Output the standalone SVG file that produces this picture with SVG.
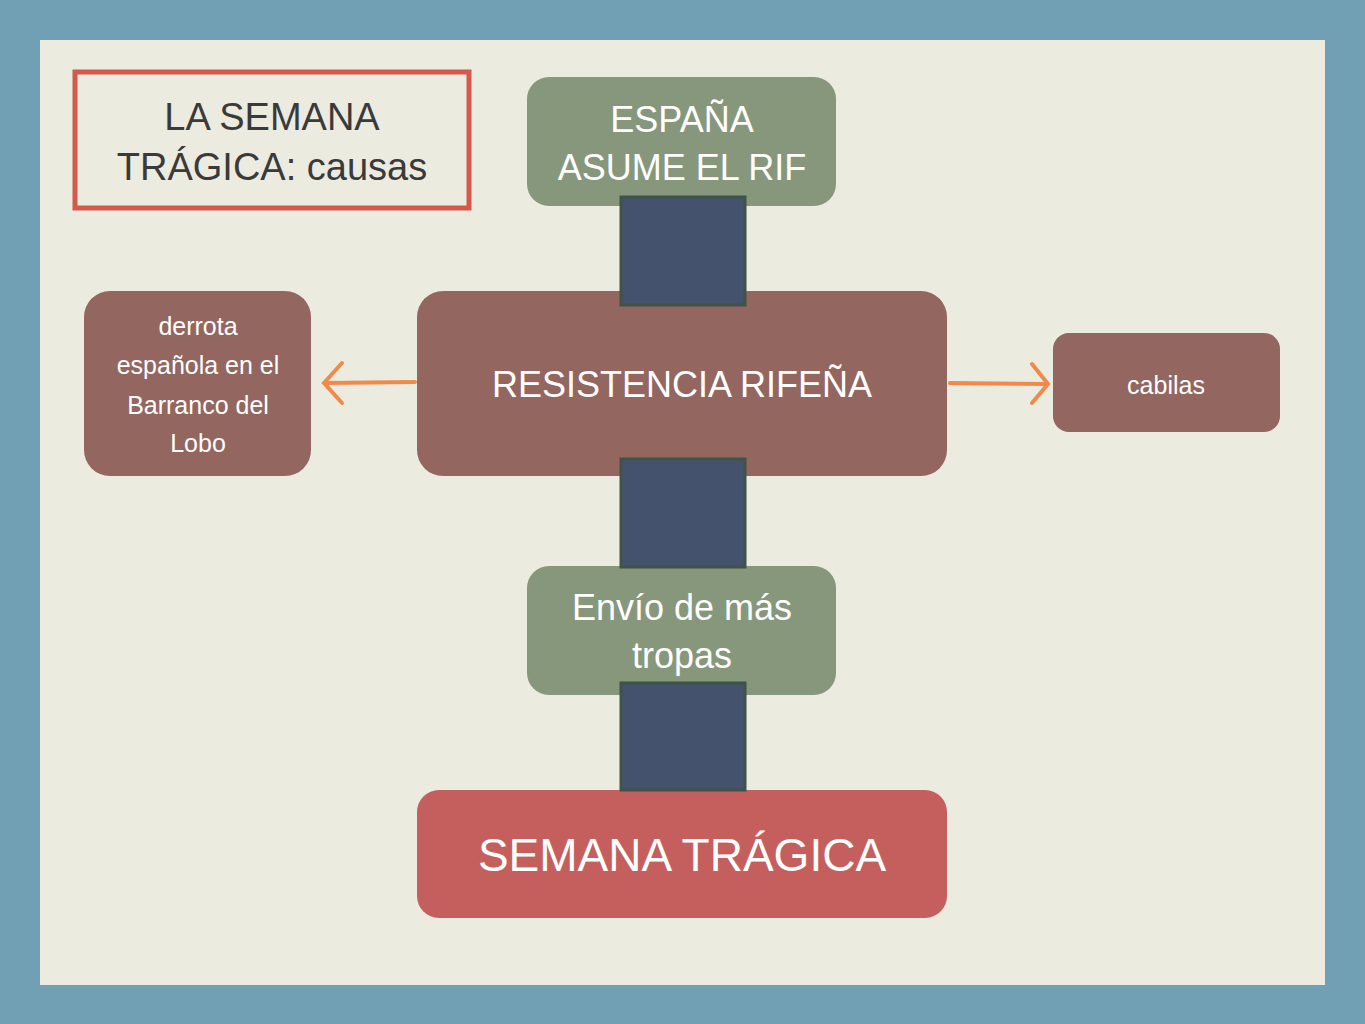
<svg xmlns="http://www.w3.org/2000/svg" width="1365" height="1024" viewBox="0 0 1365 1024">
<style>
text{font-family:"Liberation Sans",Arial,sans-serif;text-anchor:middle;fill:#fff}
.bar{fill:#44526e;stroke:#3f5346;stroke-width:3}
.g{fill:#87977c}.r{fill:#936660}
.ar{stroke:#f08a4b;stroke-width:4;fill:none;stroke-linecap:round}
</style>
<rect width="1365" height="1024" fill="#719fb3"/>
<rect x="40" y="40" width="1285" height="945" fill="#ecebe0"/>
<g id="title"><rect x="75" y="72" width="394" height="136" fill="none" stroke="#d3594c" stroke-width="5"/>
<text x="272" y="130" font-size="38" style="fill:#3a3a3a">LA SEMANA</text>
<text x="272" y="180" font-size="38" style="fill:#3a3a3a">TRÁGICA: causas</text></g>
<g id="espana"><rect class="g" x="527" y="77" width="309" height="129" rx="22"/>
<text x="682" y="132" font-size="36">ESPAÑA</text><text x="682" y="180" font-size="36">ASUME EL RIF</text></g>
<g id="resistencia"><rect class="r" x="417" y="291" width="530" height="185" rx="26"/>
<text x="682" y="397" font-size="36">RESISTENCIA RIFEÑA</text></g>
<g id="derrota"><rect class="r" x="84" y="291" width="227" height="185" rx="26"/>
<text x="198" y="335" font-size="25">derrota</text><text x="198" y="374" font-size="25">española en el</text>
<text x="198" y="414" font-size="25">Barranco del</text><text x="198" y="452" font-size="25">Lobo</text></g>
<g id="cabilas"><rect class="r" x="1053" y="333" width="227" height="99" rx="16"/>
<text x="1166" y="394" font-size="25">cabilas</text></g>
<g id="envio"><rect class="g" x="527" y="566" width="309" height="129" rx="22"/>
<text x="682" y="620" font-size="36">Envío de más</text><text x="682" y="668" font-size="36">tropas</text></g>
<g id="semana"><rect x="417" y="790" width="530" height="128" rx="22" fill="#c45f5e"/>
<text x="682" y="871" font-size="46">SEMANA TRÁGICA</text></g>
<g id="connectors">
<rect class="bar" x="621" y="197" width="124" height="108"/>
<rect class="bar" x="621" y="459" width="124" height="108"/>
<rect class="bar" x="621" y="683" width="124" height="107"/>
<path class="ar" d="M415 382 L324 383 M342 363 L324 383 L342 403"/>
<path class="ar" d="M950 383 L1048 384 M1032 364 L1048 384 L1032 403"/>
</g>
</svg>
